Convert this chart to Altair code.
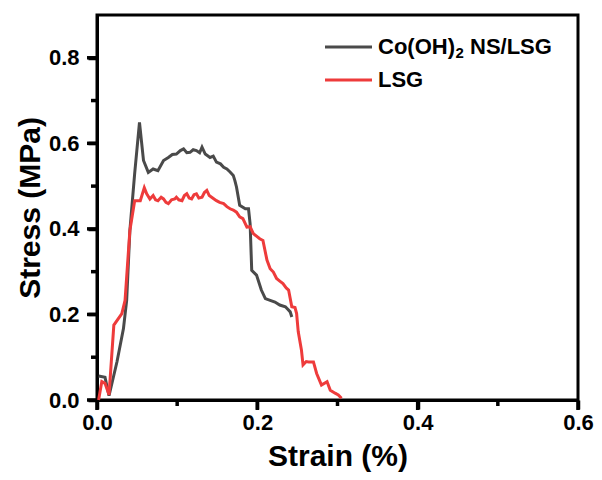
import altair as alt
import pandas as pd

# Co(OH)2 NS/LSG curve
co_strain = [0.002, 0.010, 0.015, 0.025, 0.033, 0.037, 0.041, 0.047, 0.053, 0.058,
             0.064, 0.070, 0.076, 0.083, 0.089, 0.094, 0.099, 0.104, 0.108, 0.112,
             0.116, 0.120, 0.124, 0.128, 0.131, 0.135, 0.141, 0.145, 0.149, 0.154,
             0.158, 0.162, 0.166, 0.170, 0.172, 0.174, 0.178, 0.185, 0.189, 0.191,
             0.193, 0.199, 0.205, 0.210, 0.216, 0.222, 0.228, 0.235, 0.238, 0.241,
             0.243]
co_stress = [0.056, 0.053, 0.010, 0.090, 0.167, 0.233, 0.396, 0.530, 0.649, 0.560,
             0.532, 0.540, 0.536, 0.560, 0.567, 0.574, 0.575, 0.583, 0.587, 0.578,
             0.579, 0.585, 0.583, 0.578, 0.591, 0.575, 0.567, 0.570, 0.556, 0.552,
             0.544, 0.540, 0.533, 0.525, 0.513, 0.498, 0.455, 0.447, 0.447, 0.412,
             0.303, 0.292, 0.257, 0.237, 0.233, 0.229, 0.222, 0.218, 0.212, 0.206,
             0.194]

# LSG curve
lsg_strain = [0.002, 0.006, 0.010, 0.015, 0.021, 0.031, 0.035, 0.041, 0.047, 0.054,
              0.059, 0.062, 0.066, 0.070, 0.073, 0.076, 0.080, 0.083, 0.086, 0.089,
              0.093, 0.097, 0.099, 0.102, 0.106, 0.109, 0.112, 0.115, 0.118, 0.121,
              0.124, 0.127, 0.131, 0.134, 0.137, 0.140, 0.143, 0.146, 0.149, 0.153,
              0.158, 0.162, 0.166, 0.170, 0.174, 0.178, 0.182, 0.187, 0.191, 0.195,
              0.203, 0.207, 0.212, 0.216, 0.220, 0.224, 0.228, 0.232, 0.236, 0.239,
              0.243, 0.247, 0.249, 0.251, 0.255, 0.257, 0.261, 0.264, 0.270, 0.274,
              0.280, 0.287, 0.291, 0.297, 0.301, 0.305]
lsg_stress = [0.000, 0.043, 0.039, 0.012, 0.175, 0.202, 0.233, 0.396, 0.466, 0.466,
              0.496, 0.482, 0.470, 0.478, 0.468, 0.466, 0.474, 0.470, 0.462, 0.459,
              0.468, 0.470, 0.474, 0.468, 0.466, 0.478, 0.482, 0.472, 0.470, 0.480,
              0.482, 0.472, 0.474, 0.485, 0.490, 0.478, 0.474, 0.470, 0.466, 0.462,
              0.459, 0.452, 0.447, 0.444, 0.439, 0.428, 0.424, 0.404, 0.405, 0.389,
              0.377, 0.373, 0.327, 0.307, 0.299, 0.284, 0.278, 0.272, 0.262, 0.257,
              0.218, 0.216, 0.202, 0.160, 0.117, 0.082, 0.090, 0.089, 0.089, 0.062,
              0.035, 0.043, 0.023, 0.016, 0.012, 0.004]

# legend label pieces: main text, subscript, rest
legend_parts = [["Co(OH)", "2", "NS/LSG"], ["LSG", "", ""]]
series_colors = ["#4a4a4a", "#ee3b3b"]

x_major = [0.0, 0.2, 0.4, 0.6]
x_minor = [0.1, 0.3, 0.5]
y_major = [0.0, 0.2, 0.4, 0.6, 0.8]
y_minor = [0.1, 0.3, 0.5, 0.7]

FONT = "Liberation Sans"
W, H = 481, 385
MAJ, MIN = 9, 5

co_df = pd.DataFrame({"strain": co_strain, "stress": co_stress})
lsg_df = pd.DataFrame({"strain": lsg_strain, "stress": lsg_stress})

x_scale = alt.Scale(domain=[0, 0.6], nice=False, zero=False)
y_scale = alt.Scale(domain=[0, 0.9], nice=False)

x_enc = alt.X("strain:Q", scale=x_scale,
              axis=alt.Axis(title="Strain (%)", values=x_major, format=".1f",
                            ticks=True, tickSize=MAJ, tickWidth=3.5, tickColor="#000000",
                            domain=True, domainColor="#000000", domainWidth=3,
                            labelFlush=False, labelPadding=3, titlePadding=8))
y_enc = alt.Y("stress:Q", scale=y_scale,
              axis=alt.Axis(title="Stress (MPa)", values=y_major, format=".1f",
                            ticks=True, tickSize=MAJ, tickWidth=3.5, tickColor="#000000",
                            domain=True, domainColor="#000000", domainWidth=3,
                            labelFlush=False, labelPadding=9, titlePadding=3))

co_line = alt.Chart(co_df).mark_line(color=series_colors[0], strokeWidth=3).encode(
    x=x_enc, y=y_enc)
lsg_line = alt.Chart(lsg_df).mark_line(color=series_colors[1], strokeWidth=3).encode(
    x=alt.X("strain:Q"), y=alt.Y("stress:Q"))

# outward tick marks drawn as rectangles through the scales
tick_layers = []
for vals, ln in ((x_major, MAJ), (x_minor, MIN)):
    tick_layers.append(
        alt.Chart(pd.DataFrame({"v": vals})).mark_tick(
            color="#000000", orient="vertical", size=ln, thickness=3.5,
            yOffset=ln / 2 + 1, clip=False, opacity=1).encode(
            x=alt.X("v:Q"), y=alt.value(H)))
for vals, ln in ((y_major, MAJ), (y_minor, MIN)):
    tick_layers.append(
        alt.Chart(pd.DataFrame({"v": vals})).mark_tick(
            color="#000000", orient="horizontal", size=ln, thickness=3.5,
            xOffset=-(ln / 2 + 1), clip=False, opacity=1).encode(
            y=alt.Y("v:Q"), x=alt.value(0)))

# manual legend
LEG_X = 228
MAIN_FS = 22
SUB_FS = 15
legend_layers = []
for i, (parts, col) in enumerate(zip(legend_parts, series_colors)):
    yy = 32 + i * 33
    legend_layers.append(
        alt.Chart(pd.DataFrame({"s": [parts[0]]})).mark_rule(color=col, strokeWidth=3).encode(
            x=alt.value(LEG_X), x2=alt.value(LEG_X + 47), y=alt.value(yy)))
    txt = dict(align="left", baseline="middle", font=FONT, fontWeight="bold", color="black")
    legend_layers.append(
        alt.Chart(pd.DataFrame({"s": [parts[0]]})).mark_text(fontSize=MAIN_FS, **txt).encode(
            x=alt.value(LEG_X + 53), y=alt.value(yy), text="s:N"))
    if parts[1]:
        legend_layers.append(
            alt.Chart(pd.DataFrame({"s": [parts[1]]})).mark_text(fontSize=SUB_FS, **txt).encode(
                x=alt.value(LEG_X + 53 + 77.5), y=alt.value(yy + 6), text="s:N"))
        legend_layers.append(
            alt.Chart(pd.DataFrame({"s": [parts[2]]})).mark_text(fontSize=MAIN_FS, **txt).encode(
                x=alt.value(LEG_X + 53 + 77.5 + 8.5 + 6), y=alt.value(yy), text="s:N"))

chart = alt.layer(co_line, lsg_line, *tick_layers, *legend_layers).properties(
    width=W, height=H,
    autosize=alt.AutoSizeParams(type="none"),
    padding={"left": 89, "top": 7, "right": 16, "bottom": 72},
).configure_view(
    stroke="#000000", strokeWidth=3
).configure_axis(
    labelFont=FONT, labelFontSize=22, labelFontWeight="bold", labelColor="black",
    titleFont=FONT, titleFontSize=30, titleFontWeight="bold", titleColor="black",
    grid=False
)

chart.save("out.html", embed_options={"renderer": "svg", "actions": False})
